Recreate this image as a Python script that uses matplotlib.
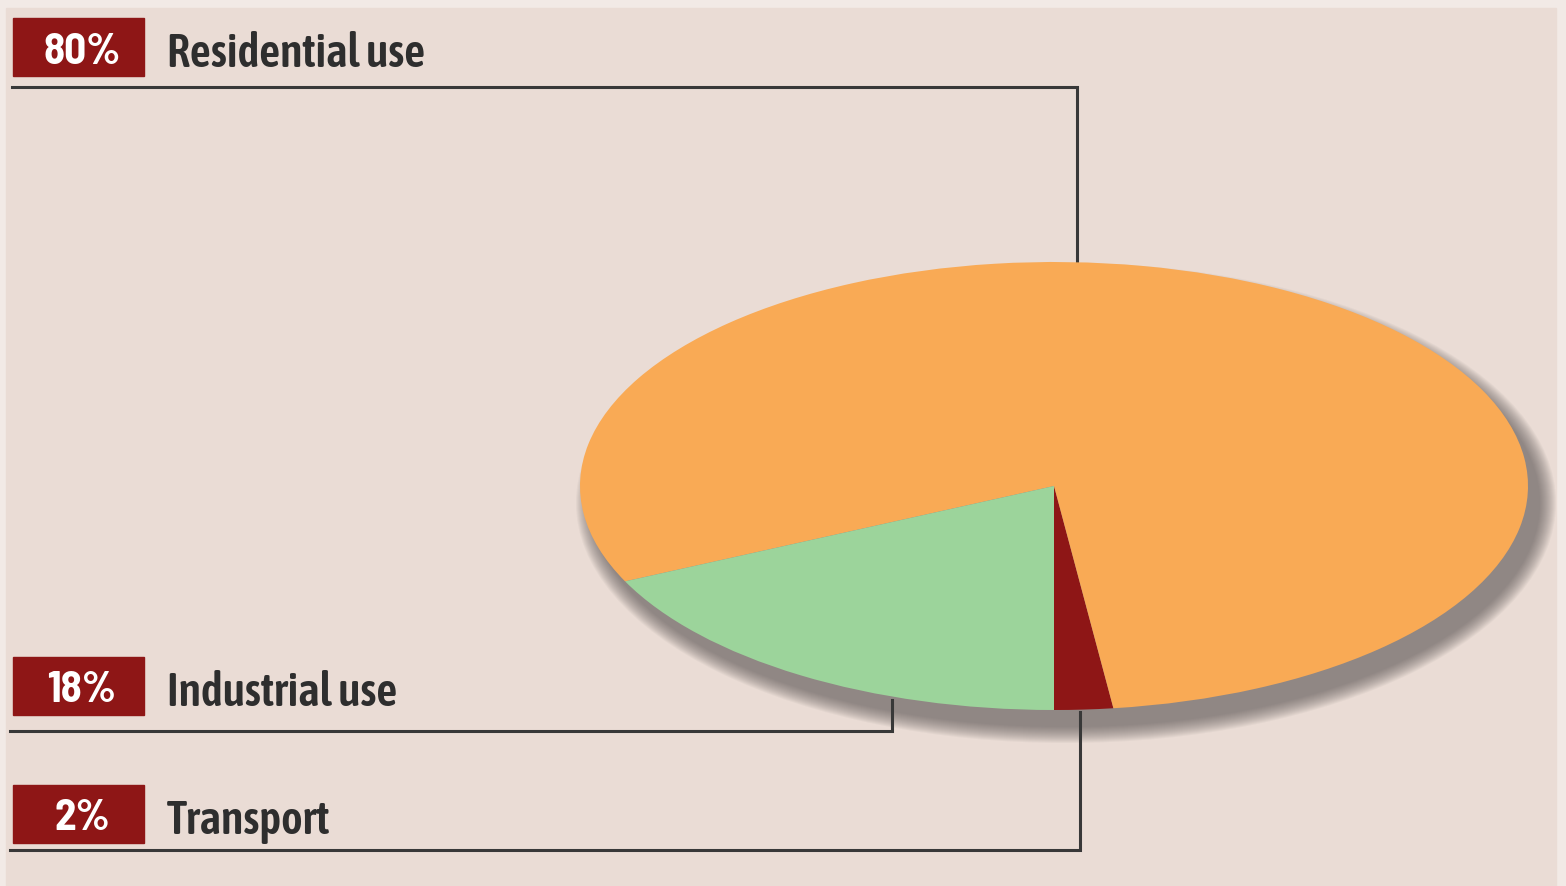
import matplotlib.pyplot as plt
from matplotlib.patches import Rectangle, Ellipse

# data
labels = ["Residential use", "Industrial use", "Transport"]
shares = [80, 18, 2]
pct_text = ["80%", "18%", "2%"]
slice_colors = ["#F9AA55", "#9CD49B", "#8E1616"]

BG = "#EADCD5"
LINE = "#383838"
BOX = "#8E1616"
FONT = ["Asap Condensed", "DejaVu Sans"]
PCT_FONT = ["Barlow Semi Condensed", "Asap Condensed", "DejaVu Sans"]

fig = plt.figure(figsize=(15.66, 8.86), dpi=100, facecolor="#F2EAE6")

# full-figure axes in pixel units for the annotations
ax = fig.add_axes([0, 0, 1, 1])
ax.set_xlim(0, 1566)
ax.set_ylim(886, 0)
ax.axis("off")
ax.add_patch(Rectangle((6, 8), 1550, 878, color=BG, zorder=0))

# pie bounding box (pixels)
left, right, top, bottom = 580, 1528, 262, 710
cx, cy = (left + right) / 2, (top + bottom) / 2
w, h = right - left, bottom - top

# soft shadow, offset to the lower right
for s in range(16, -1, -1):
    ax.add_patch(Ellipse((cx + 12, cy + 17), w + 2 * s, h + 2 * s,
                         color="#5A5353", alpha=0.05, lw=0, zorder=0.5))

pax = fig.add_axes([left / 1566, (886 - bottom) / 886, w / 1566, h / 886])
pax.set_facecolor("none")

# order: transport, residential, industrial from the bottom, counter-clockwise
order = [2, 0, 1]
pax.pie([shares[i] for i in order], colors=[slice_colors[i] for i in order],
        startangle=270, counterclock=True, radius=1,
        wedgeprops=dict(linewidth=0))
pax.set_aspect("auto")
pax.set_xlim(-1, 1)
pax.set_ylim(-1, 1)
pax.axis("off")

# leader lines
ax.plot([12, 1077, 1077], [87, 87, 262], color=LINE, lw=2.2,
        solid_joinstyle="miter", zorder=1)
ax.plot([10, 892, 892], [731, 731, 700], color=LINE, lw=2.2,
        solid_joinstyle="miter", zorder=1)
ax.plot([10, 1080, 1080], [850, 850, 712], color=LINE, lw=2.2,
        solid_joinstyle="miter", zorder=1)

# label boxes and texts
box_tops = [18, 657, 785]
for txt, pct, y0 in zip(labels, pct_text, box_tops):
    ax.add_patch(Rectangle((13, y0), 131, 58, color=BOX, zorder=2))
    ax.text(82, y0 + 34, pct, color="white", fontsize=31, fontweight="bold",
            family=PCT_FONT, ha="center", va="center", zorder=3)
    ax.text(167, y0 + 36, txt, color="#2E2E2E", fontsize=33,
            fontweight="semibold", family=FONT, ha="left", va="center",
            zorder=3)

fig.savefig("out.png", dpi=100, facecolor=fig.get_facecolor())
